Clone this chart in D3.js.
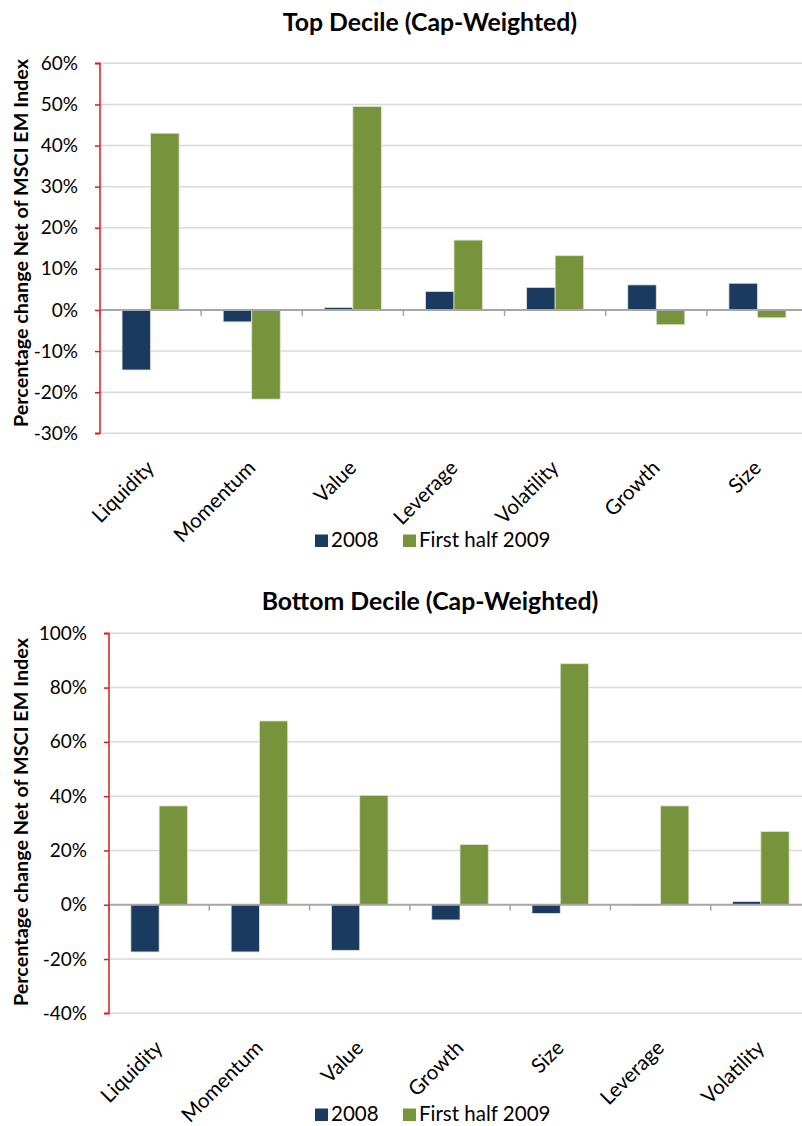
<!DOCTYPE html>
<html>
<head>
<meta charset="utf-8">
<script src="https://cdn.jsdelivr.net/npm/d3@7"></script>
<style>
  html, body { margin: 0; padding: 0; background: #fff; }
  svg { display: block; font-family: Lato, "Open Sans", sans-serif; }
</style>
</head>
<body>
<svg id="chart" width="802" height="1126"></svg>
<script>
// Factor returns net of the MSCI EM index, top and bottom decile portfolios
const seriesNames = ["2008", "First half 2009"];
const seriesColors = ["#1a3a60", "#77933c"];

const topCategories = ["Liquidity", "Momentum", "Value", "Leverage", "Volatility", "Growth", "Size"];
const top2008 = [-0.146, -0.029, 0.006, 0.045, 0.055, 0.061, 0.065];
const topH12009 = [0.430, -0.217, 0.495, 0.170, 0.132, -0.036, -0.019];
const topTicks = [-0.3, -0.2, -0.1, 0, 0.1, 0.2, 0.3, 0.4, 0.5, 0.6];

const bottomCategories = ["Liquidity", "Momentum", "Value", "Growth", "Size", "Leverage", "Volatility"];
const bottom2008 = [-0.174, -0.174, -0.168, -0.056, -0.032, -0.003, 0.012];
const bottomH12009 = [0.364, 0.677, 0.403, 0.222, 0.888, 0.364, 0.270];
const bottomTicks = [-0.4, -0.2, 0, 0.2, 0.4, 0.6, 0.8, 1.0];

const svg = d3.select("#chart");
// percent labels with a plain hyphen for negatives
const pct = d => (d < -1e-9 ? "-" : "") + Math.round(Math.abs(d) * 100) + "%";

function drawPanel(cfg) {
  const g = svg.append("g");
  const x = d3.scaleBand().domain(cfg.categories).range([cfg.left, cfg.right]).padding(0);
  const y = d3.scaleLinear().domain(cfg.domain).range([cfg.bottom, cfg.top]);
  const barW = x.step() * 0.282;

  // title
  g.append("text")
    .attr("x", cfg.titleX).attr("y", cfg.titleY)
    .attr("text-anchor", "middle")
    .attr("font-weight", "bold").attr("font-size", 24.8)
    .attr("fill", "#000")
    .text(cfg.title);

  // gridlines
  g.selectAll("line.grid").data(cfg.ticks.filter(d => Math.abs(d) > 1e-9)).join("line")
    .attr("class", "grid")
    .attr("x1", cfg.left).attr("x2", cfg.right)
    .attr("y1", d => y(d)).attr("y2", d => y(d))
    .attr("stroke", "#d9d9d9").attr("stroke-width", 1.5);

  // bars
  const series = [cfg.s2008, cfg.sH1];
  series.forEach((vals, si) => {
    g.selectAll(null).data(vals).join("rect")
      .attr("x", (d, i) => x(cfg.categories[i]) + x.bandwidth() / 2 + (si - 1) * barW)
      .attr("y", d => y(Math.max(0, d)))
      .attr("width", barW)
      .attr("height", d => Math.abs(y(d) - y(0)))
      .attr("fill", seriesColors[si])
      .attr("stroke", "#dfe6d0").attr("stroke-width", 0.8);
  });

  // zero line with category boundary ticks
  g.append("line")
    .attr("x1", cfg.left).attr("x2", cfg.right)
    .attr("y1", y(0)).attr("y2", y(0))
    .attr("stroke", "#a6a6a6").attr("stroke-width", 2);
  const bounds = cfg.categories.map(c => x(c)).concat([cfg.right]);
  g.selectAll("line.cat").data(bounds).join("line")
    .attr("class", "cat")
    .attr("x1", d => d).attr("x2", d => d)
    .attr("y1", y(0)).attr("y2", y(0) + 6)
    .attr("stroke", "#a6a6a6").attr("stroke-width", 1.5);

  // y axis (red)
  const axis = d3.axisLeft(y).tickValues(cfg.ticks).tickFormat(pct).tickSize(5).tickPadding(17);
  const ax = g.append("g").attr("transform", `translate(${cfg.left},0)`).call(axis);
  ax.select(".domain").attr("stroke", "#d42020").attr("stroke-width", 1.5)
    .attr("d", `M-5,${cfg.bottom}H0V${cfg.top}H-5`);
  ax.selectAll(".tick line").attr("stroke", "#d42020").attr("stroke-width", 1.5);
  ax.selectAll(".tick text").attr("font-size", 19).attr("fill", "#000")
    .attr("font-family", "Lato, sans-serif");

  // y axis title
  g.append("text")
    .attr("transform", `translate(${cfg.yTitleX},${cfg.yTitleY}) rotate(-90)`)
    .attr("text-anchor", "middle")
    .attr("font-weight", "bold").attr("font-size", 19.8)
    .text("Percentage change Net of MSCI EM Index");

  // category labels, rotated 45 degrees and ending under each group
  g.selectAll("text.cat").data(cfg.categories).join("text")
    .attr("class", "cat")
    .attr("text-anchor", "end")
    .attr("font-size", 20.5)
    .attr("dy", "0.75em")
    .attr("transform", d => `translate(${x(d) + x.bandwidth() / 2 - 6},${cfg.bottom + 25}) rotate(-45)`)
    .text(d => d);

  // legend
  const lg = g.append("g").attr("transform", `translate(0,${cfg.legendY})`);
  const items = [{ name: seriesNames[0], x: 315 }, { name: seriesNames[1], x: 403 }];
  items.forEach((it, i) => {
    lg.append("rect").attr("x", it.x).attr("y", -12.5).attr("width", 13).attr("height", 12.5)
      .attr("fill", seriesColors[i]);
    lg.append("text").attr("x", it.x + 16).attr("y", 0).attr("font-size", 20.5).text(it.name);
  });
}

drawPanel({
  title: "Top Decile (Cap-Weighted)", titleX: 430, titleY: 31,
  categories: topCategories, s2008: top2008, sH1: topH12009,
  domain: [-0.3, 0.6], ticks: topTicks,
  left: 100, right: 808, top: 63.3, bottom: 433.3,
  yTitleX: 28, yTitleY: 243, legendY: 547
});

drawPanel({
  title: "Bottom Decile (Cap-Weighted)", titleX: 430, titleY: 610,
  categories: bottomCategories, s2008: bottom2008, sH1: bottomH12009,
  domain: [-0.4, 1.0], ticks: bottomTicks,
  left: 109, right: 811, top: 633.3, bottom: 1013.3,
  yTitleX: 28, yTitleY: 822, legendY: 1121
});
</script>
</body>
</html>
